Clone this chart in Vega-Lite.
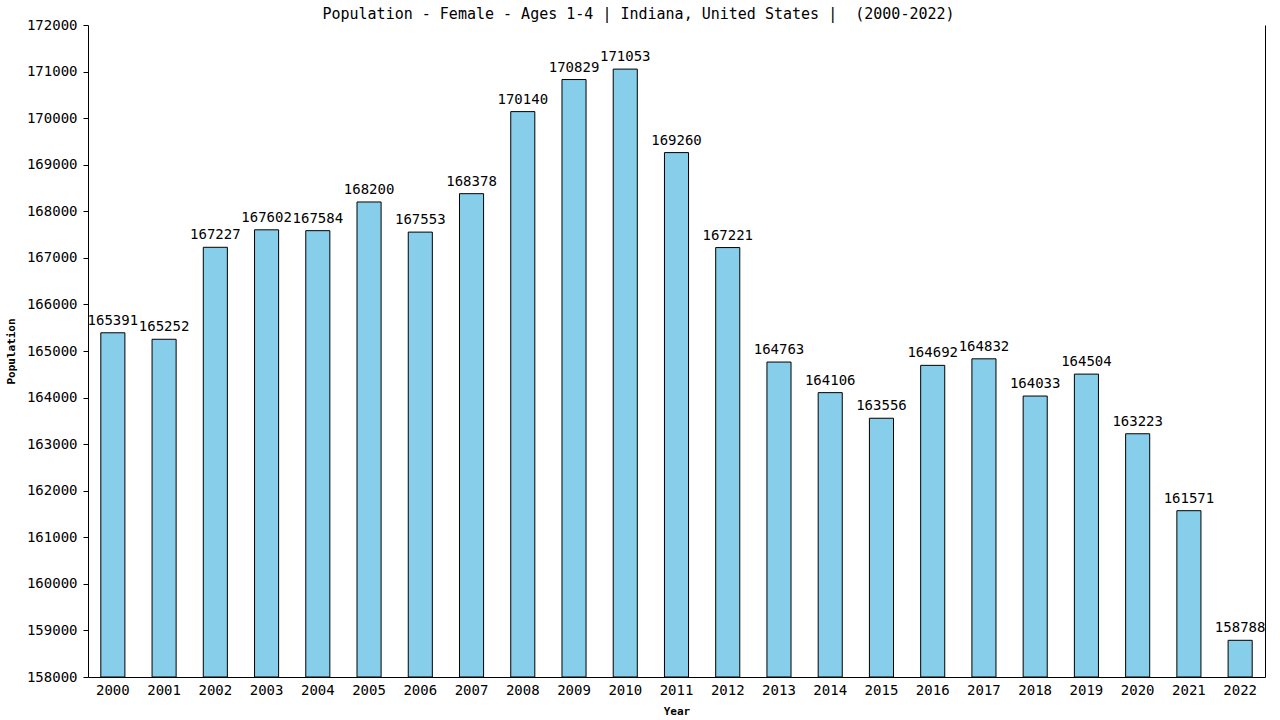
{
  "$schema": "https://vega.github.io/schema/vega-lite/v6.json",
  "autosize": {"type": "none"},
  "width": 1177,
  "height": 652,
  "padding": {"left": 88, "top": 25, "right": 15, "bottom": 43},
  "background": "white",
  "title": {
    "text": "Population - Female - Ages 1-4 | Indiana, United States | \u00a0(2000-2022)",
    "font": "DejaVu Sans Mono",
    "fontSize": 15,
    "fontWeight": "normal",
    "color": "black",
    "anchor": "middle",
    "dx": -38,
    "offset": -4
  },
  "config": {
    "view": {"stroke": null},
    "axis": {
      "labelFont": "DejaVu Sans Mono",
      "labelFontSize": 14,
      "labelColor": "black",
      "titleFont": "DejaVu Sans Mono",
      "titleFontSize": 11,
      "titleFontWeight": "bold",
      "titleColor": "black",
      "domainColor": "black",
      "tickColor": "black",
      "grid": false
    }
  },
  "data": {
    "values": [
      {"year": "2000", "population": 165391},
      {"year": "2001", "population": 165252},
      {"year": "2002", "population": 167227},
      {"year": "2003", "population": 167602},
      {"year": "2004", "population": 167584},
      {"year": "2005", "population": 168200},
      {"year": "2006", "population": 167553},
      {"year": "2007", "population": 168378},
      {"year": "2008", "population": 170140},
      {"year": "2009", "population": 170829},
      {"year": "2010", "population": 171053},
      {"year": "2011", "population": 169260},
      {"year": "2012", "population": 167221},
      {"year": "2013", "population": 164763},
      {"year": "2014", "population": 164106},
      {"year": "2015", "population": 163556},
      {"year": "2016", "population": 164692},
      {"year": "2017", "population": 164832},
      {"year": "2018", "population": 164033},
      {"year": "2019", "population": 164504},
      {"year": "2020", "population": 163223},
      {"year": "2021", "population": 161571},
      {"year": "2022", "population": 158788}
    ]
  },
  "encoding": {
    "x": {
      "field": "year",
      "type": "ordinal",
      "scale": {"paddingInner": 0.53, "paddingOuter": 0.25},
      "axis": {"title": "Year", "labelAngle": 0, "ticks": false, "labelPadding": 6, "titlePadding": 8}
    },
    "y": {
      "field": "population",
      "type": "quantitative",
      "scale": {"domain": [158000, 172000], "zero": false, "nice": false}
    }
  },
  "layer": [
    {
      "mark": {"type": "bar", "fill": "#87CEEB", "stroke": "black", "strokeWidth": 1, "clip": true},
      "encoding": {
        "y": {
          "field": "population",
          "type": "quantitative",
          "scale": {"domain": [158000, 172000], "zero": false, "nice": false},
          "axis": {
            "title": "Population",
            "values": [158000, 159000, 160000, 161000, 162000, 163000, 164000, 165000, 166000, 167000, 168000, 169000, 170000, 171000, 172000],
            "format": "d",
            "tickSize": 5,
            "labelPadding": 6,
            "titlePadding": 10
          }
        },
        "y2": {"datum": 158000}
      }
    },
    {
      "mark": {"type": "text", "font": "DejaVu Sans Mono", "fontSize": 14, "color": "black", "baseline": "bottom", "dy": -5},
      "encoding": {
        "text": {"field": "population", "type": "quantitative", "format": "d"},
        "y": {
          "field": "population",
          "type": "quantitative",
          "scale": {"domain": [158000, 172000], "zero": false, "nice": false},
          "axis": {"orient": "right", "labels": false, "ticks": false, "title": null, "domainColor": "black"}
        }
      }
    }
  ],
  "resolve": {"axis": {"y": "independent"}}
}
